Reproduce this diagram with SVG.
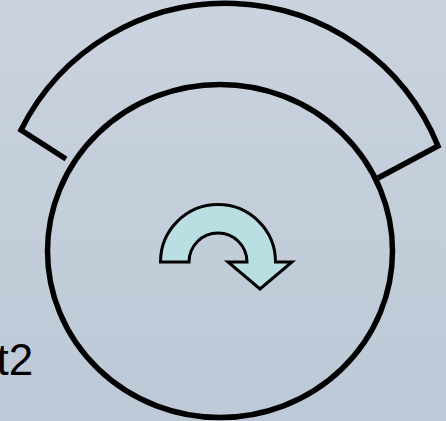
<svg xmlns="http://www.w3.org/2000/svg" width="446" height="421" viewBox="0 0 446 421">
  <defs>
    <linearGradient id="bg" x1="0" y1="0" x2="0" y2="1">
      <stop offset="0" stop-color="#CAD3DE"/>
      <stop offset="1" stop-color="#BDC9D7"/>
    </linearGradient>
  </defs>
  <style>
    .ln { fill: none; stroke: #000; stroke-width: 5.5; stroke-linejoin: miter; }
    .arrow { fill: #B9DFE3; stroke: #000; stroke-width: 3; stroke-linejoin: miter; }
    .lbl { font-family: "Liberation Sans", Arial, sans-serif; font-size: 44px; fill: #000; }
  </style>
  <rect x="0" y="0" width="446" height="421" fill="url(#bg)"/>
  <g id="outer-arc">
    <path class="ln" d="M 66 159 L 21 130 A 229 229 0 0 1 438 146 L 378 178"/>
  </g>
  <g id="wheel">
    <ellipse class="ln" cx="220" cy="251" rx="172.5" ry="166.5"/>
  </g>
  <g id="rotation-arrow">
    <path class="arrow" d="M 160.5 262 A 57.5 57.5 0 0 1 275.5 262 L 292 262 L 260 289 L 228 262 L 247 262 A 29 29 0 0 0 189 262 Z"/>
  </g>
  <g id="label">
    <text class="lbl" x="-3.5" y="375">t2</text>
  </g>
</svg>
